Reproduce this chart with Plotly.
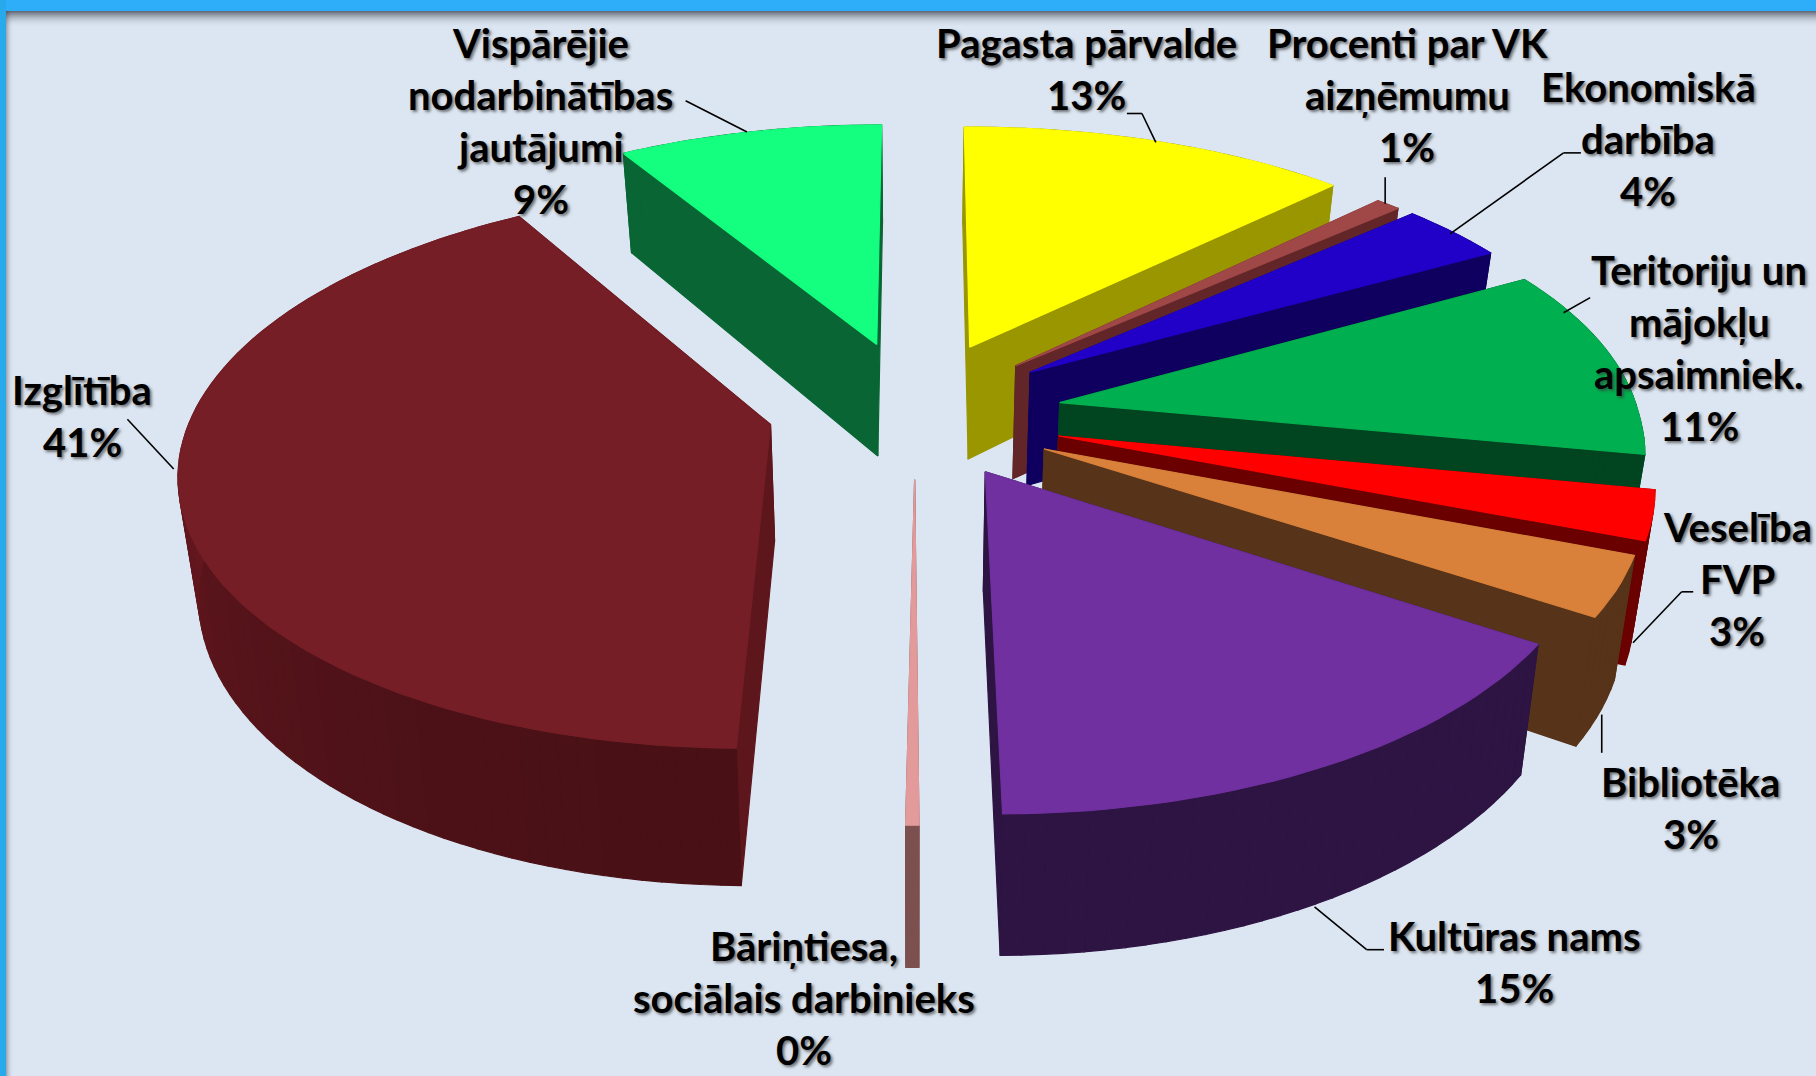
import numpy as np
import plotly.graph_objects as go

# ---- data ----
names = ["Pagasta pārvalde", "Procenti par VK aizņēmumu", "Ekonomiskā darbība",
         "Teritoriju un mājokļu apsaimniek.", "Veselība FVP", "Bibliotēka",
         "Kultūras nams", "Bāriņtiesa, sociālais darbinieks", "Izglītība",
         "Vispārējie nodarbinātības jautājumi"]
values = [12.5, 0.8, 3.5, 11.2, 2.8, 3.4, 15.7, 0.3, 41.1, 8.7]
top_colors = ["#FFFF00", "#A04848", "#2100C8", "#00AF50", "#FF0000",
              "#D9803A", "#7030A0", "#E39A9A", "#751E26", "#14FF7F"]
side_colors = ["#999600", "#632628", "#0F005F", "#004520", "#6B0000",
               "#573319", "#2D1443", "#7D5050", "#5E161D", "#096634"]
draw_order = [9, 0, 1, 2, 3, 4, 5, 8, 7, 6]
explode = [0.28, 0.27, 0.275, 0.28, 0.28, 0.27, 0.24, 0.23, 0.275, 0.28]
explode_turn = [0, 0, 0, 0, 0, 0, -4, 0, 8, 0]
label_lines = [["Pagasta pārvalde", "13%"], ["Procenti par VK", "aizņēmumu", "1%"],
               ["Ekonomiskā", "darbība", "4%"],
               ["Teritoriju un", "mājokļu", "apsaimniek.", "11%"],
               ["Veselība", "FVP", "3%"], ["Bibliotēka", "3%"],
               ["Kultūras nams", "15%"], ["Bāriņtiesa,", "sociālais darbinieks", "0%"],
               ["Izglītība", "41%"], ["Vispārējie", "nodarbinātības", "jautājumi", "9%"]]
label_x = [938, 1215, 1423, 1467, 1500, 1460, 1308, 694, 71, 467]
label_y0 = [37, 37, 75, 233, 455, 675, 808, 817, 337, 37]
leaders = [[(973, 98), (986, 98), (998, 123)], [(1196, 153), (1196, 176)],
           [(1365, 132), (1350, 132), (1252, 202)], [(1373, 257), (1350, 270)],
           [(1462, 511), (1452, 511), (1410, 555)], [(1383, 617), (1383, 650)],
           [(1195, 820), (1180, 820), (1135, 783)], [],
           [(110, 362), (150, 405)], [(592, 87), (645, 114)]]

# ---- layout of the 3-D pie ----
W, H = 1816, 1076
S = W / 1568
CX, CY = 915, 415          # projected centre
RX, RY = 579, 272          # projected radii
PERSP = 0.15               # perspective strength
BULGE = 14                 # widening of the upper-right quadrant
EX_SCALE = 0.91            # horizontal share of the slice separation
DEPTH = 116                # wall height
CONVERGE = 0.972           # walls narrow towards the bottom


def project(X, Y):
    X, Y = np.asarray(X), np.asarray(Y)
    s = 1 / (1 + PERSP * Y)
    return CX + RX * X * s + BULGE * np.maximum(X, 0) * np.maximum(Y, 0), CY - RY * Y * s, s


def bottom(x, y, s):
    return CX + (x - CX) * CONVERGE, y + DEPTH * s


def shade(color, f):
    r, g, b = (int(color[i:i + 2], 16) for i in (1, 3, 5))
    return f"rgb({int(r * f)},{int(g * f)},{int(b * f)})"


fig = go.Figure()


def poly(xs, ys, color):
    fig.add_trace(go.Scatter(x=list(xs), y=list(ys), mode="lines", fill="toself",
                             fillcolor=color, line=dict(color=color, width=1.2),
                             hoverinfo="skip", showlegend=False))


total = sum(values)
edges = np.cumsum([0] + values) / total * 2 * np.pi
for i in draw_order:
    a0, a1 = edges[i], edges[i + 1]
    mid = (a0 + a1) / 2 + np.radians(explode_turn[i])
    ox, oy = explode[i] * EX_SCALE * np.sin(mid), explode[i] * np.cos(mid)
    n = max(int((a1 - a0) / 0.03), 2)
    th = np.linspace(a0, a1, n + 1)
    rx, ry, rs = project(ox + np.sin(th), oy + np.cos(th))
    ax, ay, a_s = project(ox, oy)
    bx, by = bottom(rx, ry, rs)
    abx, aby = bottom(ax, ay, a_s)
    side = side_colors[i]
    # radial walls
    poly([ax, rx[0], bx[0], abx, ax], [ay, ry[0], by[0], aby, ay], side)
    poly([ax, rx[-1], bx[-1], abx, ax], [ay, ry[-1], by[-1], aby, ay], side)
    # rim wall, darkening towards the front on the large slice
    for k in range(n):
        f = 1.1 - 0.32 * max(-np.cos(th[k]), 0) if i == 8 else 1
        poly([rx[k], rx[k + 1], bx[k + 1], bx[k], rx[k]],
             [ry[k], ry[k + 1], by[k + 1], by[k], ry[k]], shade(side, f))
    # top face
    poly([ax, *rx, ax], [ay, *ry, ay], top_colors[i])

# ---- labels ----
annotations = []
for lines, lx, ly in zip(label_lines, label_x, label_y0):
    for j, t in enumerate(lines):
        annotations.append(dict(x=lx * S, y=(ly + j * 44.9) * S, text=t, xref="x", yref="y",
                                showarrow=False, xanchor="center", yanchor="middle",
                                font=dict(family="Lato", size=40, color="black", weight="bold",
                                          shadow="2px 2px 3px rgba(60,60,60,0.7)")))

# ---- leaders and frame ----
shapes = []
for pts in leaders:
    for (x0, y0), (x1, y1) in zip(pts, pts[1:]):
        shapes.append(dict(type="line", x0=x0 * S, y0=y0 * S, x1=x1 * S, y1=y1 * S,
                           line=dict(color="black", width=1.6)))
for k in range(16):
    op = 0.7 * (1 - k / 16) ** 2
    shapes.append(dict(type="rect", x0=6, x1=W, y0=11 + k, y1=12 + k, fillcolor=f"rgba(50,55,70,{op:.3f})",
                       line_width=0, layer="below"))
for k in range(7):
    op = 0.35 * (1 - k / 7) ** 2
    shapes.append(dict(type="rect", x0=6 + k, x1=7 + k, y0=11, y1=H, fillcolor=f"rgba(50,55,70,{op:.3f})",
                       line_width=0, layer="below"))
shapes.append(dict(type="rect", x0=0, x1=W, y0=0, y1=11, fillcolor="#2EAEF8", line_width=0, layer="above"))
shapes.append(dict(type="rect", x0=0, x1=6, y0=0, y1=H, fillcolor="#28A9EC", line_width=0, layer="above"))

fig.update_layout(width=W, height=H, margin=dict(l=0, r=0, t=0, b=0),
                  plot_bgcolor="#DCE6F2", paper_bgcolor="#DCE6F2", showlegend=False,
                  xaxis=dict(range=[0, W], visible=False, fixedrange=True),
                  yaxis=dict(range=[H, 0], visible=False, fixedrange=True),
                  annotations=annotations, shapes=shapes)
fig.write_html("out.html", config=dict(displayModeBar=False),
               post_script="document.body.style.margin='0';document.body.style.overflow='hidden';")
